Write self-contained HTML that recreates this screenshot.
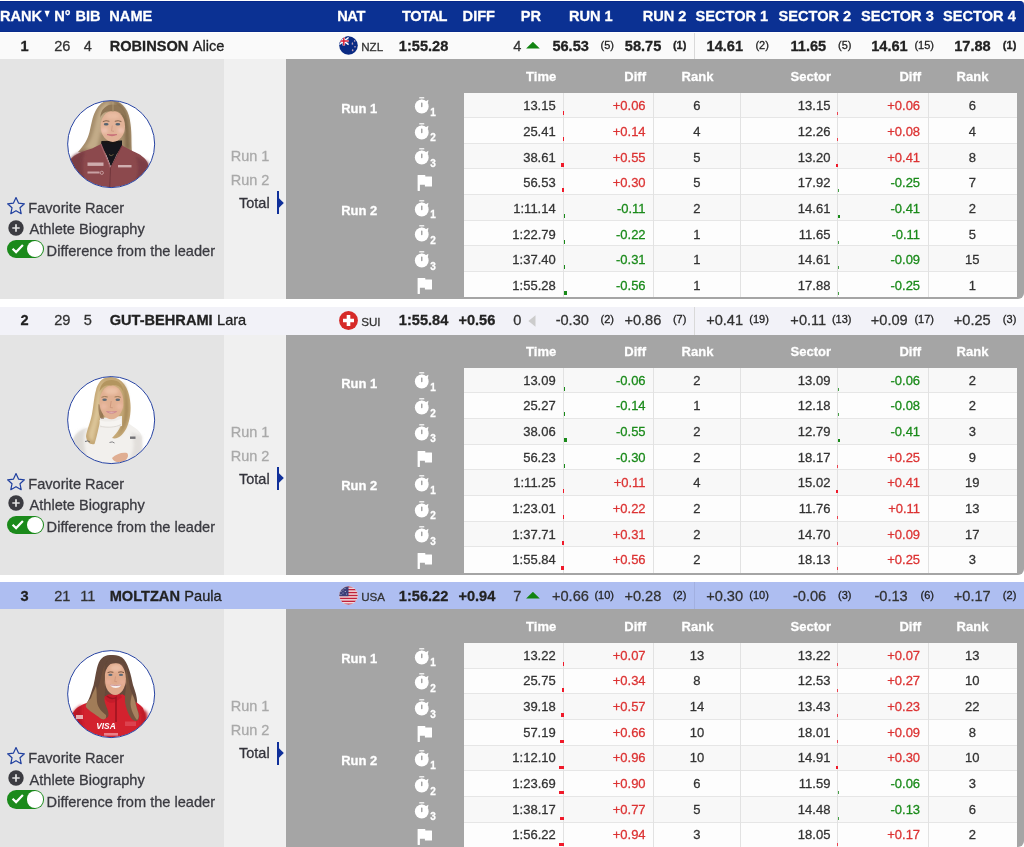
<!DOCTYPE html>
<html lang="en"><head><meta charset="utf-8"><title>Live timing</title>
<style>
html,body{margin:0;padding:0;background:#fff;overflow:hidden;}
body{width:1024px;height:847px;overflow:hidden;position:relative;font-family:"Liberation Sans",sans-serif;}
.t{position:absolute;white-space:nowrap;line-height:20px;height:20px;-webkit-text-stroke:0.28px currentColor;}
.b{position:absolute;display:block;}
.ph{width:87.6px;height:87.6px;border-radius:50%;box-sizing:border-box;border:1.1px solid #2541a0;background:#fff;overflow:hidden;}
.ph svg,.fl svg{display:block;}
</style></head><body>
<div class="b" style="left:0px;top:1px;width:1024px;height:30.6px;background:#0b3193;border-top-right-radius:4px;border-top:1px solid #06278a;border-bottom:1.5px solid #092b8b;box-sizing:border-box;"></div>
<span class="t" style="top:5.94px;font-size:14.6px;color:#fff;font-weight:700;left:0.00px;">RANK</span>
<span class="t" style="top:5.94px;font-size:14.6px;color:#fff;font-weight:700;left:54.20px;">N°</span>
<span class="t" style="top:5.94px;font-size:14.6px;color:#fff;font-weight:700;left:75.50px;">BIB</span>
<span class="t" style="top:5.94px;font-size:14.6px;color:#fff;font-weight:700;left:109.30px;">NAME</span>
<span class="t" style="top:5.94px;font-size:14.6px;color:#fff;font-weight:700;left:337.20px;letter-spacing:-0.4px;">NAT</span>
<span class="t" style="top:5.94px;font-size:14.6px;color:#fff;font-weight:700;left:402.10px;letter-spacing:-0.5px;">TOTAL</span>
<span class="t" style="top:5.94px;font-size:14.6px;color:#fff;font-weight:700;left:462.60px;">DIFF</span>
<span class="t" style="top:5.94px;font-size:14.6px;color:#fff;font-weight:700;left:520.80px;">PR</span>
<span class="t" style="top:5.94px;font-size:14.6px;color:#fff;font-weight:700;left:568.90px;">RUN 1</span>
<span class="t" style="top:5.94px;font-size:14.6px;color:#fff;font-weight:700;left:642.70px;">RUN 2</span>
<span class="t" style="top:5.94px;font-size:14.6px;color:#fff;font-weight:700;left:695.50px;">SECTOR 1</span>
<span class="t" style="top:5.94px;font-size:14.6px;color:#fff;font-weight:700;left:778.50px;">SECTOR 2</span>
<span class="t" style="top:5.94px;font-size:14.6px;color:#fff;font-weight:700;left:861.10px;">SECTOR 3</span>
<span class="t" style="top:5.94px;font-size:14.6px;color:#fff;font-weight:700;left:943.10px;">SECTOR 4</span>
<svg class="b" style="left:43.8px;top:10.3px" width="7" height="8" viewBox="0 0 7 8"><path d="M0.5 0.7h5.3L3.15 7.5z" fill="#fff"/></svg>
<!-- racer 1 -->
<div class="b" style="left:0px;top:33.3px;width:1024px;height:25.90px;background:#fafafa;"></div>
<div class="b" style="left:694px;top:33.3px;width:1px;height:25.70px;background:#d9d9d9;"></div>
<span class="t" style="top:35.94px;font-size:14.6px;color:#222;font-weight:700;left:-15.40px;width:80px;text-align:center;">1</span>
<span class="t" style="top:35.94px;font-size:14.6px;color:#333;left:22.30px;width:80px;text-align:center;">26</span>
<span class="t" style="top:35.94px;font-size:14.6px;color:#333;left:47.90px;width:80px;text-align:center;">4</span>
<span class="t" style="top:35.94px;font-size:14.6px;color:#222;left:109.70px;"><b>ROBINSON</b> <span style="margin-left:.3px">Alice</span></span>
<div class="b" style="left:338.8px;top:35.7px;width:19px;height:19px"><svg width="19" height="19" viewBox="0 0 19 19"><defs><clipPath id="cn0"><circle cx="9.500" cy="9.500" r="9.300"/></clipPath></defs><g clip-path="url(#cn0)"><rect width="19" height="19" fill="#0a2a83"/><rect x="0" y="0" width="9.600" height="9.300" fill="#0a2a83"/><path d="M0 1.500L9.600 8.600M9.600 1.500L0 8.600" stroke="#fff" stroke-width="1.500"/><path d="M4.800 0v9.600M0 5h9.600" stroke="#fff" stroke-width="2.600"/><path d="M4.800 0v9.600M0 5h9.600" stroke="#d8203a" stroke-width="1.500"/><path d="M13.400 6.500l.5 1.800h-1z M15.700 4.200l.4 1.200h-.8z M13.700 13.300l.5 1.600h-1z M16 10l.4 1.200h-.8z" fill="#e03040" stroke="#fff" stroke-width=".4"/></g></svg></div>
<span class="t" style="top:37.08px;font-size:11.6px;color:#333;left:361.20px;">NZL</span>
<span class="t" style="top:35.94px;font-size:14.6px;color:#222;font-weight:700;right:575.70px;">1:55.28</span>
<span class="t" style="top:35.94px;font-size:14.6px;color:#333;right:502.60px;">4</span>
<svg class="b" style="left:526px;top:42px" width="14" height="7" viewBox="0 0 14 7"><path d="M0.1 6.4L6.9 -0.2L13.8 6.4z" fill="#128412"/></svg>
<span class="t" style="top:35.94px;font-size:14.6px;color:#222;font-weight:700;right:435.10px;">56.53</span>
<span class="t" style="top:35.19px;font-size:11px;color:#222;right:410.00px;">(5)</span>
<span class="t" style="top:35.94px;font-size:14.6px;color:#222;font-weight:700;right:362.70px;">58.75</span>
<span class="t" style="top:35.19px;font-size:11px;color:#222;font-weight:700;right:337.60px;">(1)</span>
<span class="t" style="top:35.94px;font-size:14.6px;color:#222;font-weight:700;right:280.90px;">14.61</span>
<span class="t" style="top:35.19px;font-size:11px;color:#222;right:255.10px;">(2)</span>
<span class="t" style="top:35.94px;font-size:14.6px;color:#222;font-weight:700;right:197.80px;">11.65</span>
<span class="t" style="top:35.19px;font-size:11px;color:#222;right:172.50px;">(5)</span>
<span class="t" style="top:35.94px;font-size:14.6px;color:#222;font-weight:700;right:116.30px;">14.61</span>
<span class="t" style="top:35.19px;font-size:11px;color:#222;right:90.00px;">(15)</span>
<span class="t" style="top:35.94px;font-size:14.6px;color:#222;font-weight:700;right:33.30px;">17.88</span>
<span class="t" style="top:35.19px;font-size:11px;color:#222;font-weight:700;right:7.70px;">(1)</span>
<div class="b" style="left:0px;top:59.0px;width:224px;height:239.90px;background:#e4e4e4;"></div>
<div class="b" style="left:224px;top:59.0px;width:62.4px;height:239.90px;background:#f0f0f0;"></div>
<div class="b" style="left:286.4px;top:59.2px;width:737.6px;height:239.70px;background:#a5a5a5;border-bottom-right-radius:6px;"></div>
<svg class="b" style="left:60px;top:94px" width="100" height="100" viewBox="0 0 100 100">
<defs><clipPath id="c1"><circle cx="51.15" cy="50.1" r="43.3"/></clipPath>
<filter id="f1" x="-10%" y="-10%" width="120%" height="120%"><feGaussianBlur stdDeviation="0.7"/></filter>
<filter id="g1" x="-20%" y="-20%" width="140%" height="140%"><feGaussianBlur stdDeviation="1.6"/></filter></defs>
<circle cx="51.15" cy="50.1" r="43.7" fill="#fff"/>
<g clip-path="url(#c1)"><g filter="url(#f1)">

<path d="M52 6.200C44 6 39 10 35.500 17C32 24 31.500 30 29.500 38C27.500 46 24 51 18 58L40 62L72 58C71 50 72 40 70.500 30C69.500 18 64 7.500 52 6.200Z" fill="#a68e6c"/>
<path d="M50 7C43 9 38 16 36 26C34 36 32 46 25 54L36 56C40 46 41 28 50 7Z" fill="#c2ab88" filter="url(#g1)"/>
<path d="M54 7C62 9 66 16 68 26C69.500 36 69.500 46 70 56L65 54C66 40 64 22 54 7Z" fill="#826a4c" filter="url(#g1)"/>
<path d="M41.500 47L62 46.500L62 56L41 56Z" fill="#1a1718"/>
<ellipse cx="52.800" cy="32.300" rx="12.200" ry="15.600" fill="#e2b297"/>
<path d="M40.300 24C42 18 48 16.500 53 17.500C58 16.500 64 18.500 65.500 25C65.500 15 59 10.500 53 10.500C46.500 10.500 40.500 15 40.300 24Z" fill="#8f7656"/>
<path d="M53 7.500L53 17.500" stroke="#c9b390" stroke-width=".7" opacity=".7"/>
<ellipse cx="44.500" cy="36.500" rx="3.400" ry="2.800" fill="#f1c4b4" opacity=".9" filter="url(#g1)"/>
<ellipse cx="60.800" cy="36.500" rx="3.200" ry="2.800" fill="#f1c4b4" opacity=".9" filter="url(#g1)"/>
<ellipse cx="52.800" cy="22" rx="7" ry="3" fill="#ecc0a6" opacity=".8" filter="url(#g1)"/>
<path d="M47.200 40.600Q52 42.600 56.800 40.600Q52 41.200 47.200 40.600Z" fill="#c9727a" stroke="#c9727a" stroke-width="1.100"/>
<ellipse cx="46.200" cy="30.200" rx="2.400" ry="1.300" fill="#55636f"/><ellipse cx="57.800" cy="30.200" rx="2.400" ry="1.300" fill="#55636f"/>
<path d="M42.800 27.600q3.200-1.600 6.600-.3M54.800 27.300q3.400-1.300 6.600 .3" stroke="#7a5c44" stroke-width=".9" fill="none"/>
<path d="M52.300 31.500L51.500 37L54 37.300" stroke="#cf9a82" stroke-width=".9" fill="none"/>
<path d="M41.500 47.500C45 50 58 50 62 47L62 52L57 60L51 73L46 60L41.500 53Z" fill="#17161a"/>
<path d="M10 66C14 60 24 57 32 54.500L41 50C43 56 47 64 50.500 74L62 51.500L72.500 57C80 60 86 64 88 70L92 100L8 100Z" fill="#8c4a4e"/>
<path d="M10 66C14 60 20 58 25 57C22 66 22 80 26 92L8 100Z" fill="#7a3c42" filter="url(#g1)"/>
<path d="M75 62C80 70 78 82 74 90L92 95L88 68Z" fill="#7c3e44" filter="url(#g1)"/>
<path d="M50.500 74L49.500 100" stroke="#6a3036" stroke-width=".8"/>
<path d="M41 50C43 56 47 64 50.500 74" stroke="#a5646a" stroke-width="1.200" fill="none"/>
<path d="M62 51.500L50.500 74" stroke="#74363c" stroke-width="1" fill="none"/>
<rect x="27.500" y="68.500" width="16" height="3.400" fill="#e9d6d6" opacity=".7"/>
<rect x="27.500" y="77.500" width="12" height="2" fill="#e2c6c8" opacity=".7"/>
<rect x="58" y="71" width="13.500" height="2.400" fill="#ecdada" opacity=".7"/>
<circle cx="41.800" cy="78.800" r="1.600" fill="none" stroke="#e2c6c8" stroke-width=".6"/>
<path d="M49 60.500q2 2.500 4.500 0" stroke="#8a7a50" stroke-width=".7" fill="none"/>

</g></g>
<circle cx="51.15" cy="50.1" r="43.5" fill="none" stroke="#2743a2" stroke-width="1"/>
</svg>
<svg class="b" style="left:6.35px;top:195.9px" width="20" height="19" viewBox="0 0 20 19"><path d="M10 1.6l2.5 5.5 5.9 .7-4.4 4 1.2 5.900-5.200-3-5.200 3 1.200-5.900-4.400-4 5.900-.7z" fill="none" stroke="#1f3f9f" stroke-width="1.2" stroke-linejoin="round"/></svg>
<span class="t" style="top:197.84px;font-size:14.6px;color:#3a3a40;left:28.30px;">Favorite Racer</span>
<svg class="b" style="left:8px;top:219.5px" width="16" height="16" viewBox="0 0 16 16"><circle cx="8" cy="8" r="7.7" fill="#3b3b41"/><path d="M8 4.300v7.400M4.300 8h7.400" stroke="#e4e4e4" stroke-width="1.700"/></svg>
<span class="t" style="top:219.34px;font-size:14.6px;color:#3a3a40;left:29.50px;">Athlete Biography</span>
<div class="b" style="left:7px;top:240px;width:37px;height:18.4px;border-radius:9.200px;background:#1b8a1b"></div>
<div class="b" style="left:26.6px;top:241px;width:16.4px;height:16.4px;border-radius:50%;background:#fff"></div>
<svg class="b" style="left:11px;top:243px" width="14" height="12" viewBox="0 0 14 12"><path d="M1.600 5.800l3.500 3.300 6.800-7" fill="none" stroke="#fff" stroke-width="2.200"/></svg>
<span class="t" style="top:241.24px;font-size:14.6px;color:#3a3a40;left:46.60px;">Difference from the leader</span>
<span class="t" style="top:145.88px;font-size:14.5px;color:#a9a9a9;right:754.60px;">Run 1</span>
<span class="t" style="top:169.88px;font-size:14.5px;color:#a9a9a9;right:754.60px;">Run 2</span>
<span class="t" style="top:192.88px;font-size:14.5px;color:#33333b;right:754.40px;">Total</span>
<div class="b" style="left:277.2px;top:191.2px;width:2px;height:23.2px;background:#10309a;"></div>
<svg class="b" style="left:279px;top:197.5px" width="6" height="10" viewBox="0 0 6 10"><path d="M0 0.200L4.800 5 0 9.800z" fill="#10309a"/></svg>
<div class="b" style="left:463.7px;top:92.8px;width:553.3px;height:204.30px;background:#fdfdfd;"></div>
<div class="b" style="left:463.7px;top:92.80px;width:553.3px;height:24.60px;background:#f8f8f8;"></div>
<div class="b" style="left:463.7px;top:143.07px;width:553.3px;height:25.67px;background:#f8f8f8;"></div>
<div class="b" style="left:463.7px;top:194.41px;width:553.3px;height:25.67px;background:#f8f8f8;"></div>
<div class="b" style="left:463.7px;top:245.75px;width:553.3px;height:25.67px;background:#f8f8f8;"></div>
<div class="b" style="left:463.7px;top:116.90px;width:553.3px;height:1px;background:#e6e6e6;"></div>
<div class="b" style="left:463.7px;top:142.57px;width:553.3px;height:1px;background:#e6e6e6;"></div>
<div class="b" style="left:463.7px;top:168.24px;width:553.3px;height:1px;background:#e6e6e6;"></div>
<div class="b" style="left:463.7px;top:193.91px;width:553.3px;height:1px;background:#e6e6e6;"></div>
<div class="b" style="left:463.7px;top:219.58px;width:553.3px;height:1px;background:#e6e6e6;"></div>
<div class="b" style="left:463.7px;top:245.25px;width:553.3px;height:1px;background:#e6e6e6;"></div>
<div class="b" style="left:463.7px;top:270.92px;width:553.3px;height:1px;background:#e6e6e6;"></div>
<div class="b" style="left:563.00px;top:92.8px;width:1px;height:204.30px;background:#e2e2e2;"></div>
<div class="b" style="left:652.50px;top:92.8px;width:1px;height:204.30px;background:#e2e2e2;"></div>
<div class="b" style="left:740.00px;top:92.8px;width:1px;height:204.30px;background:#e2e2e2;"></div>
<div class="b" style="left:837.20px;top:92.8px;width:1px;height:204.30px;background:#e2e2e2;"></div>
<div class="b" style="left:927.50px;top:92.8px;width:1px;height:204.30px;background:#e2e2e2;"></div>
<span class="t" style="top:66.90px;font-size:13px;color:#fff;font-weight:700;right:467.80px;">Time</span>
<span class="t" style="top:66.90px;font-size:13px;color:#fff;font-weight:700;right:378.00px;">Diff</span>
<span class="t" style="top:66.90px;font-size:13px;color:#fff;font-weight:700;left:657.50px;width:80px;text-align:center;">Rank</span>
<span class="t" style="top:66.90px;font-size:13px;color:#fff;font-weight:700;right:193.00px;">Sector</span>
<span class="t" style="top:66.90px;font-size:13px;color:#fff;font-weight:700;right:102.90px;">Diff</span>
<span class="t" style="top:66.90px;font-size:13px;color:#fff;font-weight:700;left:932.50px;width:80px;text-align:center;">Rank</span>
<span class="t" style="top:98.70px;font-size:13px;color:#fff;font-weight:700;left:341.20px;">Run 1</span>
<span class="t" style="top:201.38px;font-size:13px;color:#fff;font-weight:700;left:341.20px;">Run 2</span>
<svg class="b" style="left:414px;top:97.08px" width="16" height="18" viewBox="0 0 16 18"><rect x="5.2" y="0.1" width="5.1" height="1.5" rx="0.3" fill="#fff" opacity=".8"/><rect x="7.1" y="1.6" width="1.4" height="1.3" fill="#fff" opacity=".35"/><path d="M11.3 4.4L14.4 2.7L13.9 6.2z" fill="#fff"/><circle cx="7.75" cy="9.5" r="6.9" fill="#fff"/><rect x="7" y="5.4" width="1.5" height="4.9" rx="0.7" fill="#a5a5a5"/></svg>
<span class="t" style="top:102.62px;font-size:10px;color:#fff;font-weight:700;left:430.20px;">1</span>
<span class="t" style="top:96.38px;font-size:13px;color:#333;right:468.30px;">13.15</span>
<span class="t" style="top:96.38px;font-size:13px;color:#dc3333;right:378.40px;">+0.06</span>
<span class="t" style="top:96.38px;font-size:13px;color:#333;left:656.90px;width:80px;text-align:center;">6</span>
<span class="t" style="top:96.38px;font-size:13px;color:#333;right:193.60px;">13.15</span>
<span class="t" style="top:96.38px;font-size:13px;color:#dc3333;right:103.90px;">+0.06</span>
<span class="t" style="top:96.38px;font-size:13px;color:#333;left:932.30px;width:80px;text-align:center;">6</span>
<div class="b" style="left:562.5px;top:111.23px;width:1px;height:4px;background:#f01a2a;"></div>
<div class="b" style="left:836.7px;top:112.23px;width:1px;height:3px;background:#f01a2a;opacity:.8;"></div>
<svg class="b" style="left:414px;top:122.75px" width="16" height="18" viewBox="0 0 16 18"><rect x="5.2" y="0.1" width="5.1" height="1.5" rx="0.3" fill="#fff" opacity=".8"/><rect x="7.1" y="1.6" width="1.4" height="1.3" fill="#fff" opacity=".35"/><path d="M11.3 4.4L14.4 2.7L13.9 6.2z" fill="#fff"/><circle cx="7.75" cy="9.5" r="6.9" fill="#fff"/><rect x="7" y="5.4" width="1.5" height="4.9" rx="0.7" fill="#a5a5a5"/></svg>
<span class="t" style="top:128.28px;font-size:10px;color:#fff;font-weight:700;left:430.20px;">2</span>
<span class="t" style="top:122.05px;font-size:13px;color:#333;right:468.30px;">25.41</span>
<span class="t" style="top:122.05px;font-size:13px;color:#dc3333;right:378.40px;">+0.14</span>
<span class="t" style="top:122.05px;font-size:13px;color:#333;left:656.90px;width:80px;text-align:center;">4</span>
<span class="t" style="top:122.05px;font-size:13px;color:#333;right:193.60px;">12.26</span>
<span class="t" style="top:122.05px;font-size:13px;color:#dc3333;right:103.90px;">+0.08</span>
<span class="t" style="top:122.05px;font-size:13px;color:#333;left:932.30px;width:80px;text-align:center;">4</span>
<div class="b" style="left:562.5px;top:136.90px;width:1px;height:4px;background:#f01a2a;"></div>
<div class="b" style="left:836.7px;top:137.90px;width:1px;height:3px;background:#f01a2a;opacity:.8;"></div>
<svg class="b" style="left:414px;top:148.42px" width="16" height="18" viewBox="0 0 16 18"><rect x="5.2" y="0.1" width="5.1" height="1.5" rx="0.3" fill="#fff" opacity=".8"/><rect x="7.1" y="1.6" width="1.4" height="1.3" fill="#fff" opacity=".35"/><path d="M11.3 4.4L14.4 2.7L13.9 6.2z" fill="#fff"/><circle cx="7.75" cy="9.5" r="6.9" fill="#fff"/><rect x="7" y="5.4" width="1.5" height="4.9" rx="0.7" fill="#a5a5a5"/></svg>
<span class="t" style="top:153.95px;font-size:10px;color:#fff;font-weight:700;left:430.20px;">3</span>
<span class="t" style="top:147.72px;font-size:13px;color:#333;right:468.30px;">38.61</span>
<span class="t" style="top:147.72px;font-size:13px;color:#dc3333;right:378.40px;">+0.55</span>
<span class="t" style="top:147.72px;font-size:13px;color:#333;left:656.90px;width:80px;text-align:center;">5</span>
<span class="t" style="top:147.72px;font-size:13px;color:#333;right:193.60px;">13.20</span>
<span class="t" style="top:147.72px;font-size:13px;color:#dc3333;right:103.90px;">+0.41</span>
<span class="t" style="top:147.72px;font-size:13px;color:#333;left:932.30px;width:80px;text-align:center;">8</span>
<div class="b" style="left:560.5px;top:162.57px;width:3px;height:4px;background:#f01a2a;"></div>
<div class="b" style="left:835.7px;top:163.57px;width:2px;height:3px;background:#f01a2a;"></div>
<svg class="b" style="left:417px;top:175.29px" width="16" height="17" viewBox="0 0 16 17"><path d="M0.6 0.300Q0.6 0 0.9 0H8Q8.300 0 8.300 .3V1.600H14.700Q15 1.600 15 1.900V11.300Q15 11.600 14.700 11.600H8.200Q7.900 11.600 7.900 11.300V9.800H2.900V15.600Q2.900 15.900 2.600 15.900H0.900Q0.6 15.900 0.6 15.600Z" fill="#fff"/></svg>
<span class="t" style="top:173.39px;font-size:13px;color:#333;right:468.30px;">56.53</span>
<span class="t" style="top:173.39px;font-size:13px;color:#dc3333;right:378.40px;">+0.30</span>
<span class="t" style="top:173.39px;font-size:13px;color:#333;left:656.90px;width:80px;text-align:center;">5</span>
<span class="t" style="top:173.39px;font-size:13px;color:#333;right:193.60px;">17.92</span>
<span class="t" style="top:173.39px;font-size:13px;color:#1a8a1a;right:103.90px;">-0.25</span>
<span class="t" style="top:173.39px;font-size:13px;color:#333;left:932.30px;width:80px;text-align:center;">7</span>
<div class="b" style="left:561.5px;top:188.24px;width:2px;height:4px;background:#f01a2a;"></div>
<div class="b" style="left:838.0px;top:189.24px;width:1px;height:3px;background:#1a8a1a;opacity:.8;"></div>
<svg class="b" style="left:414px;top:199.76px" width="16" height="18" viewBox="0 0 16 18"><rect x="5.2" y="0.1" width="5.1" height="1.5" rx="0.3" fill="#fff" opacity=".8"/><rect x="7.1" y="1.6" width="1.4" height="1.3" fill="#fff" opacity=".35"/><path d="M11.3 4.4L14.4 2.7L13.9 6.2z" fill="#fff"/><circle cx="7.75" cy="9.5" r="6.9" fill="#fff"/><rect x="7" y="5.4" width="1.5" height="4.9" rx="0.7" fill="#a5a5a5"/></svg>
<span class="t" style="top:205.30px;font-size:10px;color:#fff;font-weight:700;left:430.20px;">1</span>
<span class="t" style="top:199.06px;font-size:13px;color:#333;right:468.30px;">1:11.14</span>
<span class="t" style="top:199.06px;font-size:13px;color:#1a8a1a;right:378.40px;">-0.11</span>
<span class="t" style="top:199.06px;font-size:13px;color:#333;left:656.90px;width:80px;text-align:center;">2</span>
<span class="t" style="top:199.06px;font-size:13px;color:#333;right:193.60px;">14.61</span>
<span class="t" style="top:199.06px;font-size:13px;color:#1a8a1a;right:103.90px;">-0.41</span>
<span class="t" style="top:199.06px;font-size:13px;color:#333;left:932.30px;width:80px;text-align:center;">2</span>
<div class="b" style="left:563.8px;top:213.91px;width:1px;height:4px;background:#1a8a1a;"></div>
<div class="b" style="left:838.0px;top:214.91px;width:2px;height:3px;background:#1a8a1a;"></div>
<svg class="b" style="left:414px;top:225.43px" width="16" height="18" viewBox="0 0 16 18"><rect x="5.2" y="0.1" width="5.1" height="1.5" rx="0.3" fill="#fff" opacity=".8"/><rect x="7.1" y="1.6" width="1.4" height="1.3" fill="#fff" opacity=".35"/><path d="M11.3 4.4L14.4 2.7L13.9 6.2z" fill="#fff"/><circle cx="7.75" cy="9.5" r="6.9" fill="#fff"/><rect x="7" y="5.4" width="1.5" height="4.9" rx="0.7" fill="#a5a5a5"/></svg>
<span class="t" style="top:230.97px;font-size:10px;color:#fff;font-weight:700;left:430.20px;">2</span>
<span class="t" style="top:224.73px;font-size:13px;color:#333;right:468.30px;">1:22.79</span>
<span class="t" style="top:224.73px;font-size:13px;color:#1a8a1a;right:378.40px;">-0.22</span>
<span class="t" style="top:224.73px;font-size:13px;color:#333;left:656.90px;width:80px;text-align:center;">1</span>
<span class="t" style="top:224.73px;font-size:13px;color:#333;right:193.60px;">11.65</span>
<span class="t" style="top:224.73px;font-size:13px;color:#1a8a1a;right:103.90px;">-0.11</span>
<span class="t" style="top:224.73px;font-size:13px;color:#333;left:932.30px;width:80px;text-align:center;">5</span>
<div class="b" style="left:563.8px;top:239.58px;width:1px;height:4px;background:#1a8a1a;"></div>
<div class="b" style="left:838.0px;top:240.58px;width:1px;height:3px;background:#1a8a1a;opacity:.8;"></div>
<svg class="b" style="left:414px;top:251.10px" width="16" height="18" viewBox="0 0 16 18"><rect x="5.2" y="0.1" width="5.1" height="1.5" rx="0.3" fill="#fff" opacity=".8"/><rect x="7.1" y="1.6" width="1.4" height="1.3" fill="#fff" opacity=".35"/><path d="M11.3 4.4L14.4 2.7L13.9 6.2z" fill="#fff"/><circle cx="7.75" cy="9.5" r="6.9" fill="#fff"/><rect x="7" y="5.4" width="1.5" height="4.9" rx="0.7" fill="#a5a5a5"/></svg>
<span class="t" style="top:256.64px;font-size:10px;color:#fff;font-weight:700;left:430.20px;">3</span>
<span class="t" style="top:250.40px;font-size:13px;color:#333;right:468.30px;">1:37.40</span>
<span class="t" style="top:250.40px;font-size:13px;color:#1a8a1a;right:378.40px;">-0.31</span>
<span class="t" style="top:250.40px;font-size:13px;color:#333;left:656.90px;width:80px;text-align:center;">1</span>
<span class="t" style="top:250.40px;font-size:13px;color:#333;right:193.60px;">14.61</span>
<span class="t" style="top:250.40px;font-size:13px;color:#1a8a1a;right:103.90px;">-0.09</span>
<span class="t" style="top:250.40px;font-size:13px;color:#333;left:932.30px;width:80px;text-align:center;">15</span>
<div class="b" style="left:563.8px;top:265.25px;width:1px;height:4px;background:#1a8a1a;"></div>
<div class="b" style="left:838.0px;top:266.25px;width:1px;height:3px;background:#1a8a1a;opacity:.8;"></div>
<svg class="b" style="left:417px;top:277.97px" width="16" height="17" viewBox="0 0 16 17"><path d="M0.6 0.300Q0.6 0 0.9 0H8Q8.300 0 8.300 .3V1.600H14.700Q15 1.600 15 1.900V11.300Q15 11.600 14.700 11.600H8.200Q7.900 11.600 7.900 11.300V9.800H2.900V15.600Q2.900 15.900 2.600 15.900H0.900Q0.6 15.900 0.6 15.600Z" fill="#fff"/></svg>
<span class="t" style="top:276.07px;font-size:13px;color:#333;right:468.30px;">1:55.28</span>
<span class="t" style="top:276.07px;font-size:13px;color:#1a8a1a;right:378.40px;">-0.56</span>
<span class="t" style="top:276.07px;font-size:13px;color:#333;left:656.90px;width:80px;text-align:center;">1</span>
<span class="t" style="top:276.07px;font-size:13px;color:#333;right:193.60px;">17.88</span>
<span class="t" style="top:276.07px;font-size:13px;color:#1a8a1a;right:103.90px;">-0.25</span>
<span class="t" style="top:276.07px;font-size:13px;color:#333;left:932.30px;width:80px;text-align:center;">1</span>
<div class="b" style="left:563.8px;top:290.92px;width:3px;height:4px;background:#1a8a1a;"></div>
<div class="b" style="left:838.0px;top:291.92px;width:1px;height:3px;background:#1a8a1a;opacity:.8;"></div>
<!-- racer 2 -->
<div class="b" style="left:0px;top:306.5px;width:1024px;height:28.70px;background:#f2f2f8;"></div>
<div class="b" style="left:694px;top:306.5px;width:1px;height:28.40px;background:#d9d9d9;"></div>
<span class="t" style="top:309.94px;font-size:14.6px;color:#222;font-weight:700;left:-15.40px;width:80px;text-align:center;">2</span>
<span class="t" style="top:309.94px;font-size:14.6px;color:#333;left:22.30px;width:80px;text-align:center;">29</span>
<span class="t" style="top:309.94px;font-size:14.6px;color:#333;left:47.90px;width:80px;text-align:center;">5</span>
<span class="t" style="top:309.94px;font-size:14.6px;color:#222;left:109.70px;"><b>GUT-BEHRAMI</b> <span style="margin-left:.3px">Lara</span></span>
<div class="b" style="left:338.8px;top:310.7px;width:19px;height:19px"><svg width="19" height="19" viewBox="0 0 19 19"><circle cx="9.500" cy="9.500" r="9.400" fill="#d62a28"/><path d="M7.700 4h3.600v3.700h3.700v3.600h-3.700v3.700h-3.600v-3.700h-3.700v-3.600h3.700z" fill="#fff"/></svg></div>
<span class="t" style="top:312.08px;font-size:11.6px;color:#333;left:361.20px;">SUI</span>
<span class="t" style="top:309.94px;font-size:14.6px;color:#222;font-weight:700;right:575.70px;">1:55.84</span>
<span class="t" style="top:309.94px;font-size:14.6px;color:#222;font-weight:700;right:528.70px;">+0.56</span>
<span class="t" style="top:309.94px;font-size:14.6px;color:#333;right:502.60px;">0</span>
<svg class="b" style="left:528.4px;top:314.5px" width="8" height="12" viewBox="0 0 8 12"><path d="M7.5 0.2v11.6L0.4 6z" fill="#ccc"/></svg>
<span class="t" style="top:309.94px;font-size:14.6px;color:#333;right:435.10px;">-0.30</span>
<span class="t" style="top:309.19px;font-size:11px;color:#222;right:410.00px;">(2)</span>
<span class="t" style="top:309.94px;font-size:14.6px;color:#333;right:362.70px;">+0.86</span>
<span class="t" style="top:309.19px;font-size:11px;color:#222;right:337.60px;">(7)</span>
<span class="t" style="top:309.94px;font-size:14.6px;color:#333;right:280.90px;">+0.41</span>
<span class="t" style="top:309.19px;font-size:11px;color:#222;right:255.10px;">(19)</span>
<span class="t" style="top:309.94px;font-size:14.6px;color:#333;right:197.80px;">+0.11</span>
<span class="t" style="top:309.19px;font-size:11px;color:#222;right:172.50px;">(13)</span>
<span class="t" style="top:309.94px;font-size:14.6px;color:#333;right:116.30px;">+0.09</span>
<span class="t" style="top:309.19px;font-size:11px;color:#222;right:90.00px;">(17)</span>
<span class="t" style="top:309.94px;font-size:14.6px;color:#333;right:33.30px;">+0.25</span>
<span class="t" style="top:309.19px;font-size:11px;color:#222;right:7.70px;">(3)</span>
<div class="b" style="left:0px;top:334.9px;width:224px;height:239.80px;background:#e4e4e4;"></div>
<div class="b" style="left:224px;top:334.9px;width:62.4px;height:239.80px;background:#f0f0f0;"></div>
<div class="b" style="left:286.4px;top:335.2px;width:737.6px;height:239.50px;background:#a5a5a5;border-bottom-right-radius:6px;"></div>
<svg class="b" style="left:60px;top:369.8px" width="100" height="100" viewBox="0 0 100 100">
<defs><clipPath id="c2"><circle cx="51.15" cy="50.1" r="43.3"/></clipPath>
<filter id="f2" x="-10%" y="-10%" width="120%" height="120%"><feGaussianBlur stdDeviation="0.7"/></filter>
<filter id="g2" x="-20%" y="-20%" width="140%" height="140%"><feGaussianBlur stdDeviation="1.6"/></filter></defs>
<circle cx="51.15" cy="50.1" r="43.7" fill="#fff"/>
<g clip-path="url(#c2)"><g filter="url(#f2)">

<path d="M13 70C15 62 24 58.500 32 56L42 50L62 49C68 54 78 58 81 64C83 72 83 84 80 96L20 100Z" fill="#f2f0ed"/>
<path d="M13 70C15 64 20 60 26 58C22 68 24 82 30 96L14 96Z" fill="#dddad6" filter="url(#g2)"/>
<path d="M70 62C76 70 74 84 68 92L82 92L82 66Z" fill="#e2dfdb" filter="url(#g2)"/>
<path d="M51.500 7C44 6.500 39.500 10 36.500 18C34 26 33.500 36 32 44C30.500 52 27 60 26 66C26.500 72 30 75 34.500 74C37 66 38.500 58 40 52L62 50C62 56 58 62 52 68C58 70 64 64 67 57C70 50 71.500 40 70 30C68.500 18 62.500 8 51.500 7Z" fill="#c5a876"/>
<path d="M44 9.500C38.500 15 37 26 35.500 36C34 48 30.500 56 28.500 64C29 69 31 71 33.500 71C35 62 38 52 39.500 44C40 30 40 18 44 9.500Z" fill="#dcc598" filter="url(#g2)"/>
<path d="M62 11C67 18 68.500 30 68.500 40C68 52 64 60 58 66C62 58 64 50 64.500 42C65 30 65 20 62 11Z" fill="#a58858" filter="url(#g2)"/>
<path d="M40 48L62 46L62 56L40 58Z" fill="#efece8"/>
<path d="M38.500 34C38 40 39 46 41 49L44 49L42 36Z" fill="#6a4a30" opacity=".5" filter="url(#f2)"/>
<ellipse cx="51.500" cy="32.300" rx="11.900" ry="16.900" fill="#e1b092"/>
<path d="M39.500 22C42 16 47 14.500 51 15.500C56 14 62 16.500 63.500 23C63.500 13.500 57.500 10 51.500 10C45 10 40 14 39.500 22Z" fill="#b3955f"/>
<ellipse cx="51.500" cy="21" rx="7" ry="3.500" fill="#efc6ac" opacity=".85" filter="url(#g2)"/>
<ellipse cx="43.800" cy="36.500" rx="3" ry="3" fill="#edbba4" opacity=".9" filter="url(#g2)"/>
<ellipse cx="59.500" cy="36.500" rx="3" ry="3" fill="#edbba4" opacity=".9" filter="url(#g2)"/>
<path d="M46.500 41.500Q51.500 45 56.600 41.500Q51.500 42.400 46.500 41.500Z" fill="#ecd6d2" stroke="#cf8a90" stroke-width="1"/>
<ellipse cx="44.600" cy="29.800" rx="2.300" ry="1.200" fill="#5e6974"/><ellipse cx="57.800" cy="29.800" rx="2.300" ry="1.200" fill="#5e6974"/>
<path d="M41.500 27.300q3-1.500 6.200-.3M54.600 27q3.200-1.200 6.200 .3" stroke="#94744e" stroke-width=".9" fill="none"/>
<path d="M51.200 31L50.200 37.500L52.800 37.800" stroke="#cc957a" stroke-width=".9" fill="none"/>
<path d="M39.500 50C44 52.500 57 52 61 48.500L61.500 54C56 57.500 46 58 40 56Z" fill="#f6f4f1"/>
<path d="M40 56C46 58 56 57.500 61 54.500" stroke="#d8d4cf" stroke-width=".8" fill="none"/>
<path d="M52 88C56 84 62 82 67 83C69 85 68 89 64 91C60 93 54 93 52 88Z" fill="#e0ae92"/>
<rect x="70" y="66.500" width="5.500" height="2.400" fill="#55555a" opacity=".8"/>
<path d="M25 71.500q3-1.500 5 .5" stroke="#66666a" stroke-width=".9" fill="none"/>
<path d="M49.500 72.500q3-1.500 5 .5" stroke="#77777a" stroke-width=".9" fill="none"/>

</g></g>
<circle cx="51.15" cy="50.1" r="43.5" fill="none" stroke="#2743a2" stroke-width="1"/>
</svg>
<svg class="b" style="left:6.35px;top:471.70000000000005px" width="20" height="19" viewBox="0 0 20 19"><path d="M10 1.6l2.5 5.5 5.9 .7-4.4 4 1.2 5.900-5.200-3-5.200 3 1.200-5.900-4.400-4 5.900-.7z" fill="none" stroke="#1f3f9f" stroke-width="1.2" stroke-linejoin="round"/></svg>
<span class="t" style="top:473.64px;font-size:14.6px;color:#3a3a40;left:28.30px;">Favorite Racer</span>
<svg class="b" style="left:8px;top:495.3px" width="16" height="16" viewBox="0 0 16 16"><circle cx="8" cy="8" r="7.7" fill="#3b3b41"/><path d="M8 4.300v7.400M4.300 8h7.400" stroke="#e4e4e4" stroke-width="1.700"/></svg>
<span class="t" style="top:495.14px;font-size:14.6px;color:#3a3a40;left:29.50px;">Athlete Biography</span>
<div class="b" style="left:7px;top:515.8px;width:37px;height:18.4px;border-radius:9.200px;background:#1b8a1b"></div>
<div class="b" style="left:26.6px;top:516.8px;width:16.4px;height:16.4px;border-radius:50%;background:#fff"></div>
<svg class="b" style="left:11px;top:518.8px" width="14" height="12" viewBox="0 0 14 12"><path d="M1.600 5.800l3.500 3.300 6.800-7" fill="none" stroke="#fff" stroke-width="2.200"/></svg>
<span class="t" style="top:517.04px;font-size:14.6px;color:#3a3a40;left:46.60px;">Difference from the leader</span>
<span class="t" style="top:421.68px;font-size:14.5px;color:#a9a9a9;right:754.60px;">Run 1</span>
<span class="t" style="top:445.68px;font-size:14.5px;color:#a9a9a9;right:754.60px;">Run 2</span>
<span class="t" style="top:468.68px;font-size:14.5px;color:#33333b;right:754.40px;">Total</span>
<div class="b" style="left:277.2px;top:467.0px;width:2px;height:23.2px;background:#10309a;"></div>
<svg class="b" style="left:279px;top:473.3px" width="6" height="10" viewBox="0 0 6 10"><path d="M0 0.200L4.800 5 0 9.800z" fill="#10309a"/></svg>
<div class="b" style="left:463.7px;top:367.5px;width:553.3px;height:205.40px;background:#fdfdfd;"></div>
<div class="b" style="left:463.7px;top:367.50px;width:553.3px;height:25.20px;background:#f8f8f8;"></div>
<div class="b" style="left:463.7px;top:418.37px;width:553.3px;height:25.67px;background:#f8f8f8;"></div>
<div class="b" style="left:463.7px;top:469.71px;width:553.3px;height:25.67px;background:#f8f8f8;"></div>
<div class="b" style="left:463.7px;top:521.05px;width:553.3px;height:25.67px;background:#f8f8f8;"></div>
<div class="b" style="left:463.7px;top:392.20px;width:553.3px;height:1px;background:#e6e6e6;"></div>
<div class="b" style="left:463.7px;top:417.87px;width:553.3px;height:1px;background:#e6e6e6;"></div>
<div class="b" style="left:463.7px;top:443.54px;width:553.3px;height:1px;background:#e6e6e6;"></div>
<div class="b" style="left:463.7px;top:469.21px;width:553.3px;height:1px;background:#e6e6e6;"></div>
<div class="b" style="left:463.7px;top:494.88px;width:553.3px;height:1px;background:#e6e6e6;"></div>
<div class="b" style="left:463.7px;top:520.55px;width:553.3px;height:1px;background:#e6e6e6;"></div>
<div class="b" style="left:463.7px;top:546.22px;width:553.3px;height:1px;background:#e6e6e6;"></div>
<div class="b" style="left:563.00px;top:367.5px;width:1px;height:205.40px;background:#e2e2e2;"></div>
<div class="b" style="left:652.50px;top:367.5px;width:1px;height:205.40px;background:#e2e2e2;"></div>
<div class="b" style="left:740.00px;top:367.5px;width:1px;height:205.40px;background:#e2e2e2;"></div>
<div class="b" style="left:837.20px;top:367.5px;width:1px;height:205.40px;background:#e2e2e2;"></div>
<div class="b" style="left:927.50px;top:367.5px;width:1px;height:205.40px;background:#e2e2e2;"></div>
<span class="t" style="top:341.90px;font-size:13px;color:#fff;font-weight:700;right:467.80px;">Time</span>
<span class="t" style="top:341.90px;font-size:13px;color:#fff;font-weight:700;right:378.00px;">Diff</span>
<span class="t" style="top:341.90px;font-size:13px;color:#fff;font-weight:700;left:657.50px;width:80px;text-align:center;">Rank</span>
<span class="t" style="top:341.90px;font-size:13px;color:#fff;font-weight:700;right:193.00px;">Sector</span>
<span class="t" style="top:341.90px;font-size:13px;color:#fff;font-weight:700;right:102.90px;">Diff</span>
<span class="t" style="top:341.90px;font-size:13px;color:#fff;font-weight:700;left:932.50px;width:80px;text-align:center;">Rank</span>
<span class="t" style="top:373.70px;font-size:13px;color:#fff;font-weight:700;left:341.20px;">Run 1</span>
<span class="t" style="top:476.38px;font-size:13px;color:#fff;font-weight:700;left:341.20px;">Run 2</span>
<svg class="b" style="left:414px;top:372.38px" width="16" height="18" viewBox="0 0 16 18"><rect x="5.2" y="0.1" width="5.1" height="1.5" rx="0.3" fill="#fff" opacity=".8"/><rect x="7.1" y="1.6" width="1.4" height="1.3" fill="#fff" opacity=".35"/><path d="M11.3 4.4L14.4 2.7L13.9 6.2z" fill="#fff"/><circle cx="7.75" cy="9.5" r="6.9" fill="#fff"/><rect x="7" y="5.4" width="1.5" height="4.9" rx="0.7" fill="#a5a5a5"/></svg>
<span class="t" style="top:377.92px;font-size:10px;color:#fff;font-weight:700;left:430.20px;">1</span>
<span class="t" style="top:370.78px;font-size:13px;color:#333;right:468.30px;">13.09</span>
<span class="t" style="top:370.78px;font-size:13px;color:#1a8a1a;right:378.40px;">-0.06</span>
<span class="t" style="top:370.78px;font-size:13px;color:#333;left:656.90px;width:80px;text-align:center;">2</span>
<span class="t" style="top:370.78px;font-size:13px;color:#333;right:193.60px;">13.09</span>
<span class="t" style="top:370.78px;font-size:13px;color:#1a8a1a;right:103.90px;">-0.06</span>
<span class="t" style="top:370.78px;font-size:13px;color:#333;left:932.30px;width:80px;text-align:center;">2</span>
<div class="b" style="left:563.8px;top:386.53px;width:1px;height:4px;background:#1a8a1a;"></div>
<div class="b" style="left:838.0px;top:387.53px;width:1px;height:3px;background:#1a8a1a;opacity:.8;"></div>
<svg class="b" style="left:414px;top:398.05px" width="16" height="18" viewBox="0 0 16 18"><rect x="5.2" y="0.1" width="5.1" height="1.5" rx="0.3" fill="#fff" opacity=".8"/><rect x="7.1" y="1.6" width="1.4" height="1.3" fill="#fff" opacity=".35"/><path d="M11.3 4.4L14.4 2.7L13.9 6.2z" fill="#fff"/><circle cx="7.75" cy="9.5" r="6.9" fill="#fff"/><rect x="7" y="5.4" width="1.5" height="4.9" rx="0.7" fill="#a5a5a5"/></svg>
<span class="t" style="top:403.59px;font-size:10px;color:#fff;font-weight:700;left:430.20px;">2</span>
<span class="t" style="top:396.45px;font-size:13px;color:#333;right:468.30px;">25.27</span>
<span class="t" style="top:396.45px;font-size:13px;color:#1a8a1a;right:378.40px;">-0.14</span>
<span class="t" style="top:396.45px;font-size:13px;color:#333;left:656.90px;width:80px;text-align:center;">1</span>
<span class="t" style="top:396.45px;font-size:13px;color:#333;right:193.60px;">12.18</span>
<span class="t" style="top:396.45px;font-size:13px;color:#1a8a1a;right:103.90px;">-0.08</span>
<span class="t" style="top:396.45px;font-size:13px;color:#333;left:932.30px;width:80px;text-align:center;">2</span>
<div class="b" style="left:563.8px;top:412.20px;width:1px;height:4px;background:#1a8a1a;"></div>
<div class="b" style="left:838.0px;top:413.20px;width:1px;height:3px;background:#1a8a1a;opacity:.8;"></div>
<svg class="b" style="left:414px;top:423.72px" width="16" height="18" viewBox="0 0 16 18"><rect x="5.2" y="0.1" width="5.1" height="1.5" rx="0.3" fill="#fff" opacity=".8"/><rect x="7.1" y="1.6" width="1.4" height="1.3" fill="#fff" opacity=".35"/><path d="M11.3 4.4L14.4 2.7L13.9 6.2z" fill="#fff"/><circle cx="7.75" cy="9.5" r="6.9" fill="#fff"/><rect x="7" y="5.4" width="1.5" height="4.9" rx="0.7" fill="#a5a5a5"/></svg>
<span class="t" style="top:429.26px;font-size:10px;color:#fff;font-weight:700;left:430.20px;">3</span>
<span class="t" style="top:422.12px;font-size:13px;color:#333;right:468.30px;">38.06</span>
<span class="t" style="top:422.12px;font-size:13px;color:#1a8a1a;right:378.40px;">-0.55</span>
<span class="t" style="top:422.12px;font-size:13px;color:#333;left:656.90px;width:80px;text-align:center;">2</span>
<span class="t" style="top:422.12px;font-size:13px;color:#333;right:193.60px;">12.79</span>
<span class="t" style="top:422.12px;font-size:13px;color:#1a8a1a;right:103.90px;">-0.41</span>
<span class="t" style="top:422.12px;font-size:13px;color:#333;left:932.30px;width:80px;text-align:center;">3</span>
<div class="b" style="left:563.8px;top:437.87px;width:3px;height:4px;background:#1a8a1a;"></div>
<div class="b" style="left:838.0px;top:438.87px;width:2px;height:3px;background:#1a8a1a;"></div>
<svg class="b" style="left:417px;top:450.59px" width="16" height="17" viewBox="0 0 16 17"><path d="M0.6 0.300Q0.6 0 0.9 0H8Q8.300 0 8.300 .3V1.600H14.700Q15 1.600 15 1.900V11.300Q15 11.600 14.700 11.600H8.200Q7.900 11.600 7.900 11.300V9.800H2.900V15.600Q2.900 15.900 2.600 15.900H0.900Q0.6 15.900 0.6 15.600Z" fill="#fff"/></svg>
<span class="t" style="top:447.79px;font-size:13px;color:#333;right:468.30px;">56.23</span>
<span class="t" style="top:447.79px;font-size:13px;color:#1a8a1a;right:378.40px;">-0.30</span>
<span class="t" style="top:447.79px;font-size:13px;color:#333;left:656.90px;width:80px;text-align:center;">2</span>
<span class="t" style="top:447.79px;font-size:13px;color:#333;right:193.60px;">18.17</span>
<span class="t" style="top:447.79px;font-size:13px;color:#dc3333;right:103.90px;">+0.25</span>
<span class="t" style="top:447.79px;font-size:13px;color:#333;left:932.30px;width:80px;text-align:center;">9</span>
<div class="b" style="left:563.8px;top:463.54px;width:1px;height:4px;background:#1a8a1a;"></div>
<div class="b" style="left:836.7px;top:464.54px;width:1px;height:3px;background:#f01a2a;opacity:.8;"></div>
<svg class="b" style="left:414px;top:475.06px" width="16" height="18" viewBox="0 0 16 18"><rect x="5.2" y="0.1" width="5.1" height="1.5" rx="0.3" fill="#fff" opacity=".8"/><rect x="7.1" y="1.6" width="1.4" height="1.3" fill="#fff" opacity=".35"/><path d="M11.3 4.4L14.4 2.7L13.9 6.2z" fill="#fff"/><circle cx="7.75" cy="9.5" r="6.9" fill="#fff"/><rect x="7" y="5.4" width="1.5" height="4.9" rx="0.7" fill="#a5a5a5"/></svg>
<span class="t" style="top:480.60px;font-size:10px;color:#fff;font-weight:700;left:430.20px;">1</span>
<span class="t" style="top:473.46px;font-size:13px;color:#333;right:468.30px;">1:11.25</span>
<span class="t" style="top:473.46px;font-size:13px;color:#dc3333;right:378.40px;">+0.11</span>
<span class="t" style="top:473.46px;font-size:13px;color:#333;left:656.90px;width:80px;text-align:center;">4</span>
<span class="t" style="top:473.46px;font-size:13px;color:#333;right:193.60px;">15.02</span>
<span class="t" style="top:473.46px;font-size:13px;color:#dc3333;right:103.90px;">+0.41</span>
<span class="t" style="top:473.46px;font-size:13px;color:#333;left:932.30px;width:80px;text-align:center;">19</span>
<div class="b" style="left:562.5px;top:489.21px;width:1px;height:4px;background:#f01a2a;"></div>
<div class="b" style="left:835.7px;top:490.21px;width:2px;height:3px;background:#f01a2a;"></div>
<svg class="b" style="left:414px;top:500.73px" width="16" height="18" viewBox="0 0 16 18"><rect x="5.2" y="0.1" width="5.1" height="1.5" rx="0.3" fill="#fff" opacity=".8"/><rect x="7.1" y="1.6" width="1.4" height="1.3" fill="#fff" opacity=".35"/><path d="M11.3 4.4L14.4 2.7L13.9 6.2z" fill="#fff"/><circle cx="7.75" cy="9.5" r="6.9" fill="#fff"/><rect x="7" y="5.4" width="1.5" height="4.9" rx="0.7" fill="#a5a5a5"/></svg>
<span class="t" style="top:506.27px;font-size:10px;color:#fff;font-weight:700;left:430.20px;">2</span>
<span class="t" style="top:499.13px;font-size:13px;color:#333;right:468.30px;">1:23.01</span>
<span class="t" style="top:499.13px;font-size:13px;color:#dc3333;right:378.40px;">+0.22</span>
<span class="t" style="top:499.13px;font-size:13px;color:#333;left:656.90px;width:80px;text-align:center;">2</span>
<span class="t" style="top:499.13px;font-size:13px;color:#333;right:193.60px;">11.76</span>
<span class="t" style="top:499.13px;font-size:13px;color:#dc3333;right:103.90px;">+0.11</span>
<span class="t" style="top:499.13px;font-size:13px;color:#333;left:932.30px;width:80px;text-align:center;">13</span>
<div class="b" style="left:562.5px;top:514.88px;width:1px;height:4px;background:#f01a2a;"></div>
<div class="b" style="left:836.7px;top:515.88px;width:1px;height:3px;background:#f01a2a;opacity:.8;"></div>
<svg class="b" style="left:414px;top:526.40px" width="16" height="18" viewBox="0 0 16 18"><rect x="5.2" y="0.1" width="5.1" height="1.5" rx="0.3" fill="#fff" opacity=".8"/><rect x="7.1" y="1.6" width="1.4" height="1.3" fill="#fff" opacity=".35"/><path d="M11.3 4.4L14.4 2.7L13.9 6.2z" fill="#fff"/><circle cx="7.75" cy="9.5" r="6.9" fill="#fff"/><rect x="7" y="5.4" width="1.5" height="4.9" rx="0.7" fill="#a5a5a5"/></svg>
<span class="t" style="top:531.94px;font-size:10px;color:#fff;font-weight:700;left:430.20px;">3</span>
<span class="t" style="top:524.80px;font-size:13px;color:#333;right:468.30px;">1:37.71</span>
<span class="t" style="top:524.80px;font-size:13px;color:#dc3333;right:378.40px;">+0.31</span>
<span class="t" style="top:524.80px;font-size:13px;color:#333;left:656.90px;width:80px;text-align:center;">2</span>
<span class="t" style="top:524.80px;font-size:13px;color:#333;right:193.60px;">14.70</span>
<span class="t" style="top:524.80px;font-size:13px;color:#dc3333;right:103.90px;">+0.09</span>
<span class="t" style="top:524.80px;font-size:13px;color:#333;left:932.30px;width:80px;text-align:center;">17</span>
<div class="b" style="left:561.5px;top:540.55px;width:2px;height:4px;background:#f01a2a;"></div>
<div class="b" style="left:836.7px;top:541.55px;width:1px;height:3px;background:#f01a2a;opacity:.8;"></div>
<svg class="b" style="left:417px;top:553.27px" width="16" height="17" viewBox="0 0 16 17"><path d="M0.6 0.300Q0.6 0 0.9 0H8Q8.300 0 8.300 .3V1.600H14.700Q15 1.600 15 1.900V11.300Q15 11.600 14.700 11.600H8.200Q7.900 11.600 7.900 11.300V9.800H2.900V15.600Q2.900 15.900 2.600 15.900H0.900Q0.6 15.900 0.6 15.600Z" fill="#fff"/></svg>
<span class="t" style="top:550.47px;font-size:13px;color:#333;right:468.30px;">1:55.84</span>
<span class="t" style="top:550.47px;font-size:13px;color:#dc3333;right:378.40px;">+0.56</span>
<span class="t" style="top:550.47px;font-size:13px;color:#333;left:656.90px;width:80px;text-align:center;">2</span>
<span class="t" style="top:550.47px;font-size:13px;color:#333;right:193.60px;">18.13</span>
<span class="t" style="top:550.47px;font-size:13px;color:#dc3333;right:103.90px;">+0.25</span>
<span class="t" style="top:550.47px;font-size:13px;color:#333;left:932.30px;width:80px;text-align:center;">3</span>
<div class="b" style="left:560.5px;top:566.22px;width:3px;height:4px;background:#f01a2a;"></div>
<div class="b" style="left:836.7px;top:567.22px;width:1px;height:3px;background:#f01a2a;opacity:.8;"></div>
<!-- racer 3 -->
<div class="b" style="left:0px;top:582.0px;width:1024px;height:27.40px;background:#aebef1;"></div>
<div class="b" style="left:694px;top:582.0px;width:1px;height:27.40px;background:#a2b0e0;"></div>
<span class="t" style="top:585.94px;font-size:14.6px;color:#222;font-weight:700;left:-15.40px;width:80px;text-align:center;">3</span>
<span class="t" style="top:585.94px;font-size:14.6px;color:#333;left:22.30px;width:80px;text-align:center;">21</span>
<span class="t" style="top:585.94px;font-size:14.6px;color:#333;left:47.90px;width:80px;text-align:center;">11</span>
<span class="t" style="top:585.94px;font-size:14.6px;color:#222;left:109.70px;"><b>MOLTZAN</b> <span style="margin-left:.3px">Paula</span></span>
<div class="b" style="left:338.8px;top:585.7px;width:19px;height:19px"><svg width="19" height="19" viewBox="0 0 19 19"><defs><clipPath id="cu2"><circle cx="9.500" cy="9.500" r="9.300"/></clipPath></defs><g clip-path="url(#cu2)"><rect width="19" height="19" fill="#f3e6e8"/><g fill="#c0203a"><rect y="0" width="19" height="1.500"/><rect y="2.920" width="19" height="1.460"/><rect y="5.840" width="19" height="1.460"/><rect y="8.760" width="19" height="1.460"/><rect y="11.680" width="19" height="1.460"/><rect y="14.600" width="19" height="1.460"/><rect y="17.520" width="19" height="1.480"/></g><rect x="0" y="0" width="9.500" height="10.200" fill="#3c3f78"/><g fill="#c8c9dd"><circle cx="2" cy="2.500" r=".5"/><circle cx="4" cy="4" r=".5"/><circle cx="2" cy="5.500" r=".5"/><circle cx="4" cy="7" r=".5"/><circle cx="6" cy="2.500" r=".5"/><circle cx="6.300" cy="5.500" r=".6"/><circle cx="2" cy="8.500" r=".5"/><circle cx="7.500" cy="8" r=".5"/></g></g><circle cx="9.500" cy="9.500" r="9.300" fill="none" stroke="#e9e4e6" stroke-width=".5" opacity=".6"/></svg></div>
<span class="t" style="top:587.08px;font-size:11.6px;color:#333;left:361.20px;">USA</span>
<span class="t" style="top:585.94px;font-size:14.6px;color:#222;font-weight:700;right:575.70px;">1:56.22</span>
<span class="t" style="top:585.94px;font-size:14.6px;color:#222;font-weight:700;right:528.70px;">+0.94</span>
<span class="t" style="top:585.94px;font-size:14.6px;color:#333;right:502.60px;">7</span>
<svg class="b" style="left:526px;top:592px" width="14" height="7" viewBox="0 0 14 7"><path d="M0.1 6.4L6.9 -0.2L13.8 6.4z" fill="#128412"/></svg>
<span class="t" style="top:585.94px;font-size:14.6px;color:#333;right:435.10px;">+0.66</span>
<span class="t" style="top:585.19px;font-size:11px;color:#222;right:410.00px;">(10)</span>
<span class="t" style="top:585.94px;font-size:14.6px;color:#333;right:362.70px;">+0.28</span>
<span class="t" style="top:585.19px;font-size:11px;color:#222;right:337.60px;">(2)</span>
<span class="t" style="top:585.94px;font-size:14.6px;color:#333;right:280.90px;">+0.30</span>
<span class="t" style="top:585.19px;font-size:11px;color:#222;right:255.10px;">(10)</span>
<span class="t" style="top:585.94px;font-size:14.6px;color:#333;right:197.80px;">-0.06</span>
<span class="t" style="top:585.19px;font-size:11px;color:#222;right:172.50px;">(3)</span>
<span class="t" style="top:585.94px;font-size:14.6px;color:#333;right:116.30px;">-0.13</span>
<span class="t" style="top:585.19px;font-size:11px;color:#222;right:90.00px;">(6)</span>
<span class="t" style="top:585.94px;font-size:14.6px;color:#333;right:33.30px;">+0.17</span>
<span class="t" style="top:585.19px;font-size:11px;color:#222;right:7.70px;">(2)</span>
<div class="b" style="left:0px;top:609.4px;width:224px;height:237.60px;background:#e4e4e4;"></div>
<div class="b" style="left:224px;top:609.4px;width:62.4px;height:237.60px;background:#f0f0f0;"></div>
<div class="b" style="left:286.4px;top:609.4px;width:737.6px;height:237.60px;background:#a5a5a5;border-bottom-right-radius:6px;"></div>
<svg class="b" style="left:60px;top:644.3px" width="100" height="100" viewBox="0 0 100 100">
<defs><clipPath id="c3"><circle cx="51.15" cy="50.1" r="43.3"/></clipPath>
<filter id="f3" x="-10%" y="-10%" width="120%" height="120%"><feGaussianBlur stdDeviation="0.7"/></filter>
<filter id="g3" x="-20%" y="-20%" width="140%" height="140%"><feGaussianBlur stdDeviation="1.6"/></filter></defs>
<circle cx="51.15" cy="50.1" r="43.7" fill="#fff"/>
<g clip-path="url(#c3)"><g filter="url(#f3)">

<path d="M50 11C43 11 39 16 37 24C35 32 34.500 40 32 46C30 52 29 56 26 60L48 64L77 62C78 54 75 47 73 41C71 31 68 18 62 13.500C58 11 54 11 50 11Z" fill="#65483a"/>
<path d="M11 74C13 65 20 61 28 58.500L46 52C48 56 52 58 56 56L62 50C68 54 78 58 83 64C86 72 87 84 85 96L13 100Z" fill="#d3212f"/>
<path d="M11 74C13 67 17 63 22 61C20 70 22 84 27 96L11 96Z" fill="#b81826" filter="url(#g3)"/>
<path d="M78 62C84 70 82 84 78 92L90 92L87 68Z" fill="#bd1a28" filter="url(#g3)"/>
<path d="M44.500 53C46 58 50 60 55 58L62 53L60 50L48 50.500Z" fill="#c41c2a"/>
<path d="M47 52C50 55 54 55 56 53.500L56 78" stroke="#9c1420" stroke-width="1.500" fill="none"/>
<ellipse cx="55.200" cy="34.600" rx="10.700" ry="16.400" fill="#e0aa8c"/>
<path d="M44 30C45.500 22 50 19 54 19.500C59 18.500 64.500 21 66 28C66.500 18 60 13.500 54 13.500C47.500 13.500 44 20 44 30Z" fill="#65483a"/>
<ellipse cx="56" cy="24" rx="6" ry="3.500" fill="#eec2aa" opacity=".8" filter="url(#g3)"/>
<path d="M45 20C41.500 27 41 36 38.500 42C36 48 33.500 52 33 58C33 64 38 68 42 72C45 76 49 74 48.500 70C48 64 44 60 44.500 54C45 48 46 42 45 36C44.500 30 44.500 25 45 20Z" fill="#6f503b"/>
<path d="M36 42C34 47 32 50 31 54C28 57 25 60 26 63C29 67 35 70 40 74C44 77 47 75 46 71C42 68 38 64 37 58C36.500 52 37 47 36 42Z" fill="#a17c58"/>
<path d="M66 24C68 30 69 38 70 44C72 50 75 54 76 60C77 66 80 70 79 74C78 78 74 78 71 74C68 70 66 64 65 58C64.500 52 66 46 66 40C66 34 66 28 66 24Z" fill="#76573f"/>
<path d="M72 50C75 55 75.500 60 77 65C79 70 79.500 74 77 76C74 72 71 66 70.500 60C70.500 56 71.500 53 72 50Z" fill="#a88260" filter="url(#f3)"/>
<path d="M50.600 41.300Q55.700 45.300 60.800 41.300Q55.700 42.300 50.600 41.300Z" fill="#f6eeee" stroke="#f6eeee" stroke-width="1.400"/>
<path d="M50.200 41Q55.700 42 61.200 41" stroke="#b96a6a" stroke-width=".7" fill="none"/>
<ellipse cx="48.500" cy="38" rx="2.800" ry="2.600" fill="#eab09c" opacity=".8" filter="url(#g3)"/>
<ellipse cx="62.500" cy="38" rx="2.800" ry="2.600" fill="#eab09c" opacity=".8" filter="url(#g3)"/>
<ellipse cx="50.400" cy="30.900" rx="2.100" ry="1.100" fill="#5d6a78"/><ellipse cx="61" cy="30.900" rx="2.100" ry="1.100" fill="#5d6a78"/>
<path d="M47.600 28.600q2.800-1.300 5.800-.3M58.200 28.300q3-1.100 5.800 .3" stroke="#6b4b38" stroke-width=".9" fill="none"/>
<path d="M55.500 32.500L54.700 37.500L57 37.800" stroke="#cc9278" stroke-width=".8" fill="none"/>
<text x="36.200" y="85.300" font-family="Liberation Sans, sans-serif" font-weight="700" font-style="italic" font-size="8.200" fill="#fff" textLength="19.500" lengthAdjust="spacingAndGlyphs">VISA</text>
<path d="M16 71h7v4h-7z" fill="#f2d4d6" opacity=".8"/>
<rect x="65" y="77.500" width="11" height="4.500" fill="#e25a66" opacity=".6"/>
<rect x="44" y="89" width="14" height="2.600" fill="#ef9aa2" opacity=".8"/>

</g></g>
<circle cx="51.15" cy="50.1" r="43.5" fill="none" stroke="#2743a2" stroke-width="1"/>
</svg>
<svg class="b" style="left:6.35px;top:746.1999999999999px" width="20" height="19" viewBox="0 0 20 19"><path d="M10 1.6l2.5 5.5 5.9 .7-4.4 4 1.2 5.900-5.200-3-5.200 3 1.200-5.900-4.400-4 5.900-.7z" fill="none" stroke="#1f3f9f" stroke-width="1.2" stroke-linejoin="round"/></svg>
<span class="t" style="top:748.14px;font-size:14.6px;color:#3a3a40;left:28.30px;">Favorite Racer</span>
<svg class="b" style="left:8px;top:769.8px" width="16" height="16" viewBox="0 0 16 16"><circle cx="8" cy="8" r="7.7" fill="#3b3b41"/><path d="M8 4.300v7.400M4.300 8h7.400" stroke="#e4e4e4" stroke-width="1.700"/></svg>
<span class="t" style="top:769.64px;font-size:14.6px;color:#3a3a40;left:29.50px;">Athlete Biography</span>
<div class="b" style="left:7px;top:790.3px;width:37px;height:18.4px;border-radius:9.200px;background:#1b8a1b"></div>
<div class="b" style="left:26.6px;top:791.3px;width:16.4px;height:16.4px;border-radius:50%;background:#fff"></div>
<svg class="b" style="left:11px;top:793.3px" width="14" height="12" viewBox="0 0 14 12"><path d="M1.600 5.800l3.500 3.300 6.800-7" fill="none" stroke="#fff" stroke-width="2.200"/></svg>
<span class="t" style="top:791.54px;font-size:14.6px;color:#3a3a40;left:46.60px;">Difference from the leader</span>
<span class="t" style="top:696.18px;font-size:14.5px;color:#a9a9a9;right:754.60px;">Run 1</span>
<span class="t" style="top:720.18px;font-size:14.5px;color:#a9a9a9;right:754.60px;">Run 2</span>
<span class="t" style="top:743.18px;font-size:14.5px;color:#33333b;right:754.40px;">Total</span>
<div class="b" style="left:277.2px;top:741.5px;width:2px;height:23.2px;background:#10309a;"></div>
<svg class="b" style="left:279px;top:747.8px" width="6" height="10" viewBox="0 0 6 10"><path d="M0 0.200L4.800 5 0 9.800z" fill="#10309a"/></svg>
<div class="b" style="left:463.7px;top:642.6px;width:553.3px;height:204.40px;background:#fdfdfd;"></div>
<div class="b" style="left:463.7px;top:642.60px;width:553.3px;height:25.50px;background:#f8f8f8;"></div>
<div class="b" style="left:463.7px;top:693.77px;width:553.3px;height:25.67px;background:#f8f8f8;"></div>
<div class="b" style="left:463.7px;top:745.11px;width:553.3px;height:25.67px;background:#f8f8f8;"></div>
<div class="b" style="left:463.7px;top:796.45px;width:553.3px;height:25.67px;background:#f8f8f8;"></div>
<div class="b" style="left:463.7px;top:667.60px;width:553.3px;height:1px;background:#e6e6e6;"></div>
<div class="b" style="left:463.7px;top:693.27px;width:553.3px;height:1px;background:#e6e6e6;"></div>
<div class="b" style="left:463.7px;top:718.94px;width:553.3px;height:1px;background:#e6e6e6;"></div>
<div class="b" style="left:463.7px;top:744.61px;width:553.3px;height:1px;background:#e6e6e6;"></div>
<div class="b" style="left:463.7px;top:770.28px;width:553.3px;height:1px;background:#e6e6e6;"></div>
<div class="b" style="left:463.7px;top:795.95px;width:553.3px;height:1px;background:#e6e6e6;"></div>
<div class="b" style="left:463.7px;top:821.62px;width:553.3px;height:1px;background:#e6e6e6;"></div>
<div class="b" style="left:563.00px;top:642.6px;width:1px;height:204.40px;background:#e2e2e2;"></div>
<div class="b" style="left:652.50px;top:642.6px;width:1px;height:204.40px;background:#e2e2e2;"></div>
<div class="b" style="left:740.00px;top:642.6px;width:1px;height:204.40px;background:#e2e2e2;"></div>
<div class="b" style="left:837.20px;top:642.6px;width:1px;height:204.40px;background:#e2e2e2;"></div>
<div class="b" style="left:927.50px;top:642.6px;width:1px;height:204.40px;background:#e2e2e2;"></div>
<span class="t" style="top:616.90px;font-size:13px;color:#fff;font-weight:700;right:467.80px;">Time</span>
<span class="t" style="top:616.90px;font-size:13px;color:#fff;font-weight:700;right:378.00px;">Diff</span>
<span class="t" style="top:616.90px;font-size:13px;color:#fff;font-weight:700;left:657.50px;width:80px;text-align:center;">Rank</span>
<span class="t" style="top:616.90px;font-size:13px;color:#fff;font-weight:700;right:193.00px;">Sector</span>
<span class="t" style="top:616.90px;font-size:13px;color:#fff;font-weight:700;right:102.90px;">Diff</span>
<span class="t" style="top:616.90px;font-size:13px;color:#fff;font-weight:700;left:932.50px;width:80px;text-align:center;">Rank</span>
<span class="t" style="top:648.70px;font-size:13px;color:#fff;font-weight:700;left:341.20px;">Run 1</span>
<span class="t" style="top:751.38px;font-size:13px;color:#fff;font-weight:700;left:341.20px;">Run 2</span>
<svg class="b" style="left:414px;top:647.78px" width="16" height="18" viewBox="0 0 16 18"><rect x="5.2" y="0.1" width="5.1" height="1.5" rx="0.3" fill="#fff" opacity=".8"/><rect x="7.1" y="1.6" width="1.4" height="1.3" fill="#fff" opacity=".35"/><path d="M11.3 4.4L14.4 2.7L13.9 6.2z" fill="#fff"/><circle cx="7.75" cy="9.5" r="6.9" fill="#fff"/><rect x="7" y="5.4" width="1.5" height="4.9" rx="0.7" fill="#a5a5a5"/></svg>
<span class="t" style="top:653.32px;font-size:10px;color:#fff;font-weight:700;left:430.20px;">1</span>
<span class="t" style="top:645.78px;font-size:13px;color:#333;right:468.30px;">13.22</span>
<span class="t" style="top:645.78px;font-size:13px;color:#dc3333;right:378.40px;">+0.07</span>
<span class="t" style="top:645.78px;font-size:13px;color:#333;left:656.90px;width:80px;text-align:center;">13</span>
<span class="t" style="top:645.78px;font-size:13px;color:#333;right:193.60px;">13.22</span>
<span class="t" style="top:645.78px;font-size:13px;color:#dc3333;right:103.90px;">+0.07</span>
<span class="t" style="top:645.78px;font-size:13px;color:#333;left:932.30px;width:80px;text-align:center;">13</span>
<div class="b" style="left:562.5px;top:661.93px;width:1px;height:4px;background:#f01a2a;"></div>
<div class="b" style="left:836.7px;top:662.93px;width:1px;height:3px;background:#f01a2a;opacity:.8;"></div>
<svg class="b" style="left:414px;top:673.45px" width="16" height="18" viewBox="0 0 16 18"><rect x="5.2" y="0.1" width="5.1" height="1.5" rx="0.3" fill="#fff" opacity=".8"/><rect x="7.1" y="1.6" width="1.4" height="1.3" fill="#fff" opacity=".35"/><path d="M11.3 4.4L14.4 2.7L13.9 6.2z" fill="#fff"/><circle cx="7.75" cy="9.5" r="6.9" fill="#fff"/><rect x="7" y="5.4" width="1.5" height="4.9" rx="0.7" fill="#a5a5a5"/></svg>
<span class="t" style="top:678.99px;font-size:10px;color:#fff;font-weight:700;left:430.20px;">2</span>
<span class="t" style="top:671.45px;font-size:13px;color:#333;right:468.30px;">25.75</span>
<span class="t" style="top:671.45px;font-size:13px;color:#dc3333;right:378.40px;">+0.34</span>
<span class="t" style="top:671.45px;font-size:13px;color:#333;left:656.90px;width:80px;text-align:center;">8</span>
<span class="t" style="top:671.45px;font-size:13px;color:#333;right:193.60px;">12.53</span>
<span class="t" style="top:671.45px;font-size:13px;color:#dc3333;right:103.90px;">+0.27</span>
<span class="t" style="top:671.45px;font-size:13px;color:#333;left:932.30px;width:80px;text-align:center;">10</span>
<div class="b" style="left:561.5px;top:687.60px;width:2px;height:4px;background:#f01a2a;"></div>
<div class="b" style="left:836.7px;top:688.60px;width:1px;height:3px;background:#f01a2a;opacity:.8;"></div>
<svg class="b" style="left:414px;top:699.12px" width="16" height="18" viewBox="0 0 16 18"><rect x="5.2" y="0.1" width="5.1" height="1.5" rx="0.3" fill="#fff" opacity=".8"/><rect x="7.1" y="1.6" width="1.4" height="1.3" fill="#fff" opacity=".35"/><path d="M11.3 4.4L14.4 2.7L13.9 6.2z" fill="#fff"/><circle cx="7.75" cy="9.5" r="6.9" fill="#fff"/><rect x="7" y="5.4" width="1.5" height="4.9" rx="0.7" fill="#a5a5a5"/></svg>
<span class="t" style="top:704.66px;font-size:10px;color:#fff;font-weight:700;left:430.20px;">3</span>
<span class="t" style="top:697.12px;font-size:13px;color:#333;right:468.30px;">39.18</span>
<span class="t" style="top:697.12px;font-size:13px;color:#dc3333;right:378.40px;">+0.57</span>
<span class="t" style="top:697.12px;font-size:13px;color:#333;left:656.90px;width:80px;text-align:center;">14</span>
<span class="t" style="top:697.12px;font-size:13px;color:#333;right:193.60px;">13.43</span>
<span class="t" style="top:697.12px;font-size:13px;color:#dc3333;right:103.90px;">+0.23</span>
<span class="t" style="top:697.12px;font-size:13px;color:#333;left:932.30px;width:80px;text-align:center;">22</span>
<div class="b" style="left:560.5px;top:713.27px;width:3px;height:4px;background:#f01a2a;"></div>
<div class="b" style="left:836.7px;top:714.27px;width:1px;height:3px;background:#f01a2a;opacity:.8;"></div>
<svg class="b" style="left:417px;top:725.99px" width="16" height="17" viewBox="0 0 16 17"><path d="M0.6 0.300Q0.6 0 0.9 0H8Q8.300 0 8.300 .3V1.600H14.700Q15 1.600 15 1.900V11.300Q15 11.600 14.700 11.600H8.200Q7.900 11.600 7.900 11.300V9.800H2.900V15.600Q2.900 15.900 2.600 15.900H0.900Q0.6 15.900 0.6 15.600Z" fill="#fff"/></svg>
<span class="t" style="top:722.79px;font-size:13px;color:#333;right:468.30px;">57.19</span>
<span class="t" style="top:722.79px;font-size:13px;color:#dc3333;right:378.40px;">+0.66</span>
<span class="t" style="top:722.79px;font-size:13px;color:#333;left:656.90px;width:80px;text-align:center;">10</span>
<span class="t" style="top:722.79px;font-size:13px;color:#333;right:193.60px;">18.01</span>
<span class="t" style="top:722.79px;font-size:13px;color:#dc3333;right:103.90px;">+0.09</span>
<span class="t" style="top:722.79px;font-size:13px;color:#333;left:932.30px;width:80px;text-align:center;">8</span>
<div class="b" style="left:559.5px;top:739.94px;width:4px;height:3px;background:#f01a2a;"></div>
<div class="b" style="left:836.7px;top:739.94px;width:1px;height:3px;background:#f01a2a;opacity:.8;"></div>
<svg class="b" style="left:414px;top:750.46px" width="16" height="18" viewBox="0 0 16 18"><rect x="5.2" y="0.1" width="5.1" height="1.5" rx="0.3" fill="#fff" opacity=".8"/><rect x="7.1" y="1.6" width="1.4" height="1.3" fill="#fff" opacity=".35"/><path d="M11.3 4.4L14.4 2.7L13.9 6.2z" fill="#fff"/><circle cx="7.75" cy="9.5" r="6.9" fill="#fff"/><rect x="7" y="5.4" width="1.5" height="4.9" rx="0.7" fill="#a5a5a5"/></svg>
<span class="t" style="top:756.00px;font-size:10px;color:#fff;font-weight:700;left:430.20px;">1</span>
<span class="t" style="top:748.46px;font-size:13px;color:#333;right:468.30px;">1:12.10</span>
<span class="t" style="top:748.46px;font-size:13px;color:#dc3333;right:378.40px;">+0.96</span>
<span class="t" style="top:748.46px;font-size:13px;color:#333;left:656.90px;width:80px;text-align:center;">10</span>
<span class="t" style="top:748.46px;font-size:13px;color:#333;right:193.60px;">14.91</span>
<span class="t" style="top:748.46px;font-size:13px;color:#dc3333;right:103.90px;">+0.30</span>
<span class="t" style="top:748.46px;font-size:13px;color:#333;left:932.30px;width:80px;text-align:center;">10</span>
<div class="b" style="left:558.5px;top:765.61px;width:5px;height:3px;background:#f01a2a;"></div>
<div class="b" style="left:835.7px;top:765.61px;width:2px;height:3px;background:#f01a2a;"></div>
<svg class="b" style="left:414px;top:776.13px" width="16" height="18" viewBox="0 0 16 18"><rect x="5.2" y="0.1" width="5.1" height="1.5" rx="0.3" fill="#fff" opacity=".8"/><rect x="7.1" y="1.6" width="1.4" height="1.3" fill="#fff" opacity=".35"/><path d="M11.3 4.4L14.4 2.7L13.9 6.2z" fill="#fff"/><circle cx="7.75" cy="9.5" r="6.9" fill="#fff"/><rect x="7" y="5.4" width="1.5" height="4.9" rx="0.7" fill="#a5a5a5"/></svg>
<span class="t" style="top:781.67px;font-size:10px;color:#fff;font-weight:700;left:430.20px;">2</span>
<span class="t" style="top:774.13px;font-size:13px;color:#333;right:468.30px;">1:23.69</span>
<span class="t" style="top:774.13px;font-size:13px;color:#dc3333;right:378.40px;">+0.90</span>
<span class="t" style="top:774.13px;font-size:13px;color:#333;left:656.90px;width:80px;text-align:center;">6</span>
<span class="t" style="top:774.13px;font-size:13px;color:#333;right:193.60px;">11.59</span>
<span class="t" style="top:774.13px;font-size:13px;color:#1a8a1a;right:103.90px;">-0.06</span>
<span class="t" style="top:774.13px;font-size:13px;color:#333;left:932.30px;width:80px;text-align:center;">3</span>
<div class="b" style="left:558.5px;top:791.28px;width:5px;height:3px;background:#f01a2a;"></div>
<div class="b" style="left:838.0px;top:791.28px;width:1px;height:3px;background:#1a8a1a;opacity:.8;"></div>
<svg class="b" style="left:414px;top:801.80px" width="16" height="18" viewBox="0 0 16 18"><rect x="5.2" y="0.1" width="5.1" height="1.5" rx="0.3" fill="#fff" opacity=".8"/><rect x="7.1" y="1.6" width="1.4" height="1.3" fill="#fff" opacity=".35"/><path d="M11.3 4.4L14.4 2.7L13.9 6.2z" fill="#fff"/><circle cx="7.75" cy="9.5" r="6.9" fill="#fff"/><rect x="7" y="5.4" width="1.5" height="4.9" rx="0.7" fill="#a5a5a5"/></svg>
<span class="t" style="top:807.34px;font-size:10px;color:#fff;font-weight:700;left:430.20px;">3</span>
<span class="t" style="top:799.80px;font-size:13px;color:#333;right:468.30px;">1:38.17</span>
<span class="t" style="top:799.80px;font-size:13px;color:#dc3333;right:378.40px;">+0.77</span>
<span class="t" style="top:799.80px;font-size:13px;color:#333;left:656.90px;width:80px;text-align:center;">5</span>
<span class="t" style="top:799.80px;font-size:13px;color:#333;right:193.60px;">14.48</span>
<span class="t" style="top:799.80px;font-size:13px;color:#1a8a1a;right:103.90px;">-0.13</span>
<span class="t" style="top:799.80px;font-size:13px;color:#333;left:932.30px;width:80px;text-align:center;">6</span>
<div class="b" style="left:559.5px;top:816.95px;width:4px;height:3px;background:#f01a2a;"></div>
<div class="b" style="left:838.0px;top:816.95px;width:1px;height:3px;background:#1a8a1a;opacity:.8;"></div>
<svg class="b" style="left:417px;top:828.67px" width="16" height="17" viewBox="0 0 16 17"><path d="M0.6 0.300Q0.6 0 0.9 0H8Q8.300 0 8.300 .3V1.600H14.700Q15 1.600 15 1.900V11.300Q15 11.600 14.700 11.600H8.200Q7.900 11.600 7.900 11.300V9.800H2.900V15.600Q2.900 15.900 2.600 15.900H0.900Q0.6 15.900 0.6 15.600Z" fill="#fff"/></svg>
<span class="t" style="top:825.47px;font-size:13px;color:#333;right:468.30px;">1:56.22</span>
<span class="t" style="top:825.47px;font-size:13px;color:#dc3333;right:378.40px;">+0.94</span>
<span class="t" style="top:825.47px;font-size:13px;color:#333;left:656.90px;width:80px;text-align:center;">3</span>
<span class="t" style="top:825.47px;font-size:13px;color:#333;right:193.60px;">18.05</span>
<span class="t" style="top:825.47px;font-size:13px;color:#dc3333;right:103.90px;">+0.17</span>
<span class="t" style="top:825.47px;font-size:13px;color:#333;left:932.30px;width:80px;text-align:center;">2</span>
<div class="b" style="left:558.5px;top:842.62px;width:5px;height:3px;background:#f01a2a;"></div>
<div class="b" style="left:836.7px;top:842.62px;width:1px;height:3px;background:#f01a2a;opacity:.8;"></div>
</body></html>
